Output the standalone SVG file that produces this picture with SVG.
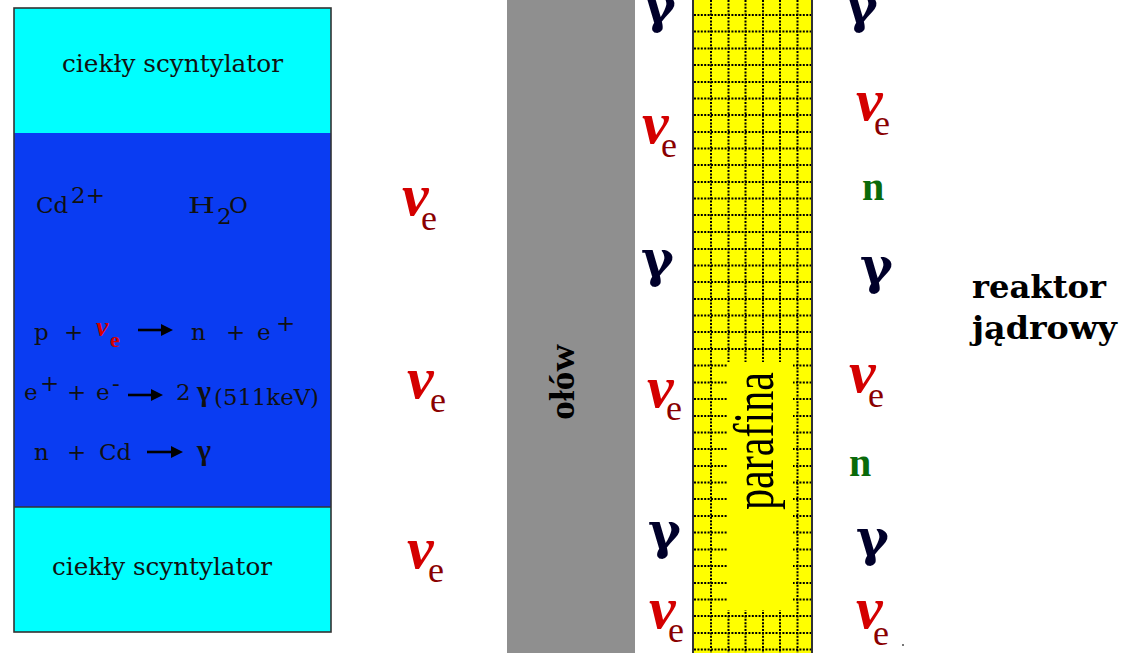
<svg xmlns="http://www.w3.org/2000/svg" width="1124" height="653" viewBox="0 0 1124 653">
<style>
.lbl{font-family:"DejaVu Serif","Liberation Serif",serif;fill:#111;}
.nu{font-family:"Liberation Serif",serif;font-style:italic;font-weight:bold;font-size:60px;fill:#d40000;}
.sub{font-family:"Liberation Serif",serif;font-size:36px;fill:#8a0000;}
.gam{font-family:"DejaVu Serif",serif;font-weight:bold;font-size:50px;fill:#00002a;}
.neu{font-family:"Liberation Serif",serif;font-weight:bold;font-size:40px;fill:#0a6a0a;}
.eq{font-family:"DejaVu Serif","Liberation Serif",serif;font-size:23px;fill:#111;}
.big{font-family:"DejaVu Serif","Liberation Serif",serif;font-weight:bold;font-size:31px;fill:#000;}
.dots{fill:none;stroke:#000;stroke-width:2;stroke-dasharray:2 1.4;}
</style>
<defs>
<marker id="ah" markerWidth="12" markerHeight="12" refX="0" refY="6" orient="auto" markerUnits="userSpaceOnUse">
<path d="M0,0 L12,6 L0,12 Z" fill="#000"/>
</marker>
</defs>
<rect width="1124" height="653" fill="#fff"/>

<g id="detector">
<rect x="14" y="8" width="317" height="125" fill="#00ffff"/>
<rect x="14" y="133" width="317" height="374" fill="#0a3cf2"/>
<rect x="14" y="507" width="317" height="125" fill="#00ffff"/>
<line x1="14" y1="507" x2="331" y2="507" stroke="#333" stroke-width="1.5"/>
<rect x="14" y="8" width="317" height="624" fill="none" stroke="#333" stroke-width="1.6"/>
<text class="lbl" x="62" y="72" font-size="24" textLength="221" lengthAdjust="spacingAndGlyphs">ciekły scyntylator</text>
<text class="lbl" x="52" y="575" font-size="24" textLength="220" lengthAdjust="spacingAndGlyphs">ciekły scyntylator</text>
<text class="eq" x="36" y="213" font-size="25">Cd</text>
<text class="eq" x="71" y="203" font-size="20">2+</text>
<text class="eq" x="188" y="213" font-size="25" textLength="27" lengthAdjust="spacingAndGlyphs">H</text>
<text class="eq" x="217" y="224" font-size="16">2</text>
<text class="eq" x="229" y="213" font-size="25">O</text>
<text class="eq" x="34" y="340">p</text>
<text class="eq" x="64" y="340">+</text>
<text x="96" y="336" style="font-family:'Liberation Serif',serif;font-style:italic;font-weight:bold;font-size:28px;fill:#d40000">ν</text>
<text x="110" y="347" style="font-family:'Liberation Serif',serif;font-weight:bold;font-size:22px;fill:#d40000">e</text>
<text class="eq" x="191" y="340">n</text>
<text class="eq" x="226" y="340">+</text>
<text class="eq" x="257" y="340">e</text>
<text class="eq" x="276" y="331" font-size="20">+</text>
<text class="eq" x="24" y="400">e</text>
<text class="eq" x="40" y="391" font-size="19">+</text>
<text class="eq" x="67" y="400">+</text>
<text class="eq" x="96" y="400">e</text>
<text class="eq" x="112" y="391" font-size="18">-</text>
<text class="eq" x="176" y="400" font-size="21">2</text>
<text x="197" y="401" style="font-family:'Liberation Serif',serif;font-weight:bold;font-size:30px;fill:#111">γ</text>
<text class="eq" x="214" y="405" font-size="18" textLength="105" lengthAdjust="spacingAndGlyphs">(511keV)</text>
<text class="eq" x="34" y="460">n</text>
<text class="eq" x="67" y="460">+</text>
<text class="eq" x="99" y="460">Cd</text>
<text x="197" y="460" style="font-family:'Liberation Serif',serif;font-weight:bold;font-size:30px;fill:#111">γ</text>
</g>

<g id="arrows" stroke="#000" stroke-width="2.6" fill="none">
<line x1="138" y1="330" x2="161" y2="330" marker-end="url(#ah)"/>
<line x1="128" y1="395" x2="151" y2="395" marker-end="url(#ah)"/>
<line x1="147" y1="452" x2="171" y2="452" marker-end="url(#ah)"/>
</g>

<g id="neutrinos-mid">
<text class="nu" x="402" y="215">ν</text><text class="sub" x="421" y="230">e</text>
<text class="nu" x="407" y="398">ν</text><text class="sub" x="430" y="412">e</text>
<text class="nu" x="407" y="568">ν</text><text class="sub" x="428" y="582">e</text>
</g>

<g id="olow">
<rect x="507" y="0" width="128" height="653" fill="#8f8f8f"/>
<text transform="translate(574,420) rotate(-90)" style="font-family:'Liberation Serif',serif;font-weight:bold;font-size:36px;fill:#000" textLength="76" lengthAdjust="spacingAndGlyphs">ołów</text>
</g>

<g id="particles-left">
<text class="gam" x="643" y="22">γ</text>
<text class="nu" x="642" y="143">ν</text><text class="sub" x="661" y="157">e</text>
<text class="gam" x="641" y="276">γ</text>
<text class="nu" x="647" y="407">ν</text><text class="sub" x="666" y="420">e</text>
<text class="gam" x="648" y="548">γ</text>
<text class="nu" x="649" y="628">ν</text><text class="sub" x="668" y="642">e</text>
</g>

<g id="parafina">
<rect x="693" y="-2" width="119" height="657" fill="#ffff00"/>
<path class="dots" d="M694,15H811M694,31.5H811M694,48.5H811M694,65H811M694,82H811M694,98.5H811M694,115H811M694,132H811M694,148.5H811M694,165H811M694,182H811M694,198.5H811M694,215H811M694,232H811M694,249H811M694,265.5H811M694,282H811M694,299H811M694,315.5H811M694,332H811M694,349H811M694,365.5H811M694,382.5H811M694,399H811M694,416H811M694,432.5H811M694,449H811M694,466H811M694,482.5H811M694,499H811M694,516H811M694,532.5H811M694,549.5H811M694,566H811M694,583H811M694,599.5H811M694,616H811M694,633H811M694,649.5H811"/>
<path class="dots" d="M711,0V653M728.5,0V653M745.5,0V653M763,0V653M780,0V653M797.5,0V653"/>
<rect x="727" y="362" width="66" height="248" fill="#ffff00"/>
<rect x="693" y="-2" width="119" height="657" fill="none" stroke="#333" stroke-width="2"/>
<text transform="translate(773,510) rotate(-90) scale(1,1.3)" style="font-family:'Liberation Serif',serif;font-size:44px;fill:#000" textLength="138" lengthAdjust="spacingAndGlyphs">parafina</text>
</g>

<g id="particles-right">
<text class="gam" x="845" y="22">γ</text>
<text class="nu" x="856" y="120">ν</text><text class="sub" x="874" y="135">e</text>
<text class="neu" x="862" y="200">n</text>
<text class="gam" x="860" y="283">γ</text>
<text class="nu" x="849" y="392">ν</text><text class="sub" x="868" y="407">e</text>
<text class="neu" x="849" y="476">n</text>
<text class="gam" x="856" y="555">γ</text>
<text class="nu" x="856" y="628">ν</text><text class="sub" x="873" y="645">e</text>
<rect x="902" y="644" width="2" height="2" fill="#777"/>
</g>

<g id="reaktor">
<text class="big" x="972" y="298" textLength="134" lengthAdjust="spacingAndGlyphs">reaktor</text>
<text class="big" x="972" y="339" textLength="145" lengthAdjust="spacingAndGlyphs">jądrowy</text>
</g>
</svg>
